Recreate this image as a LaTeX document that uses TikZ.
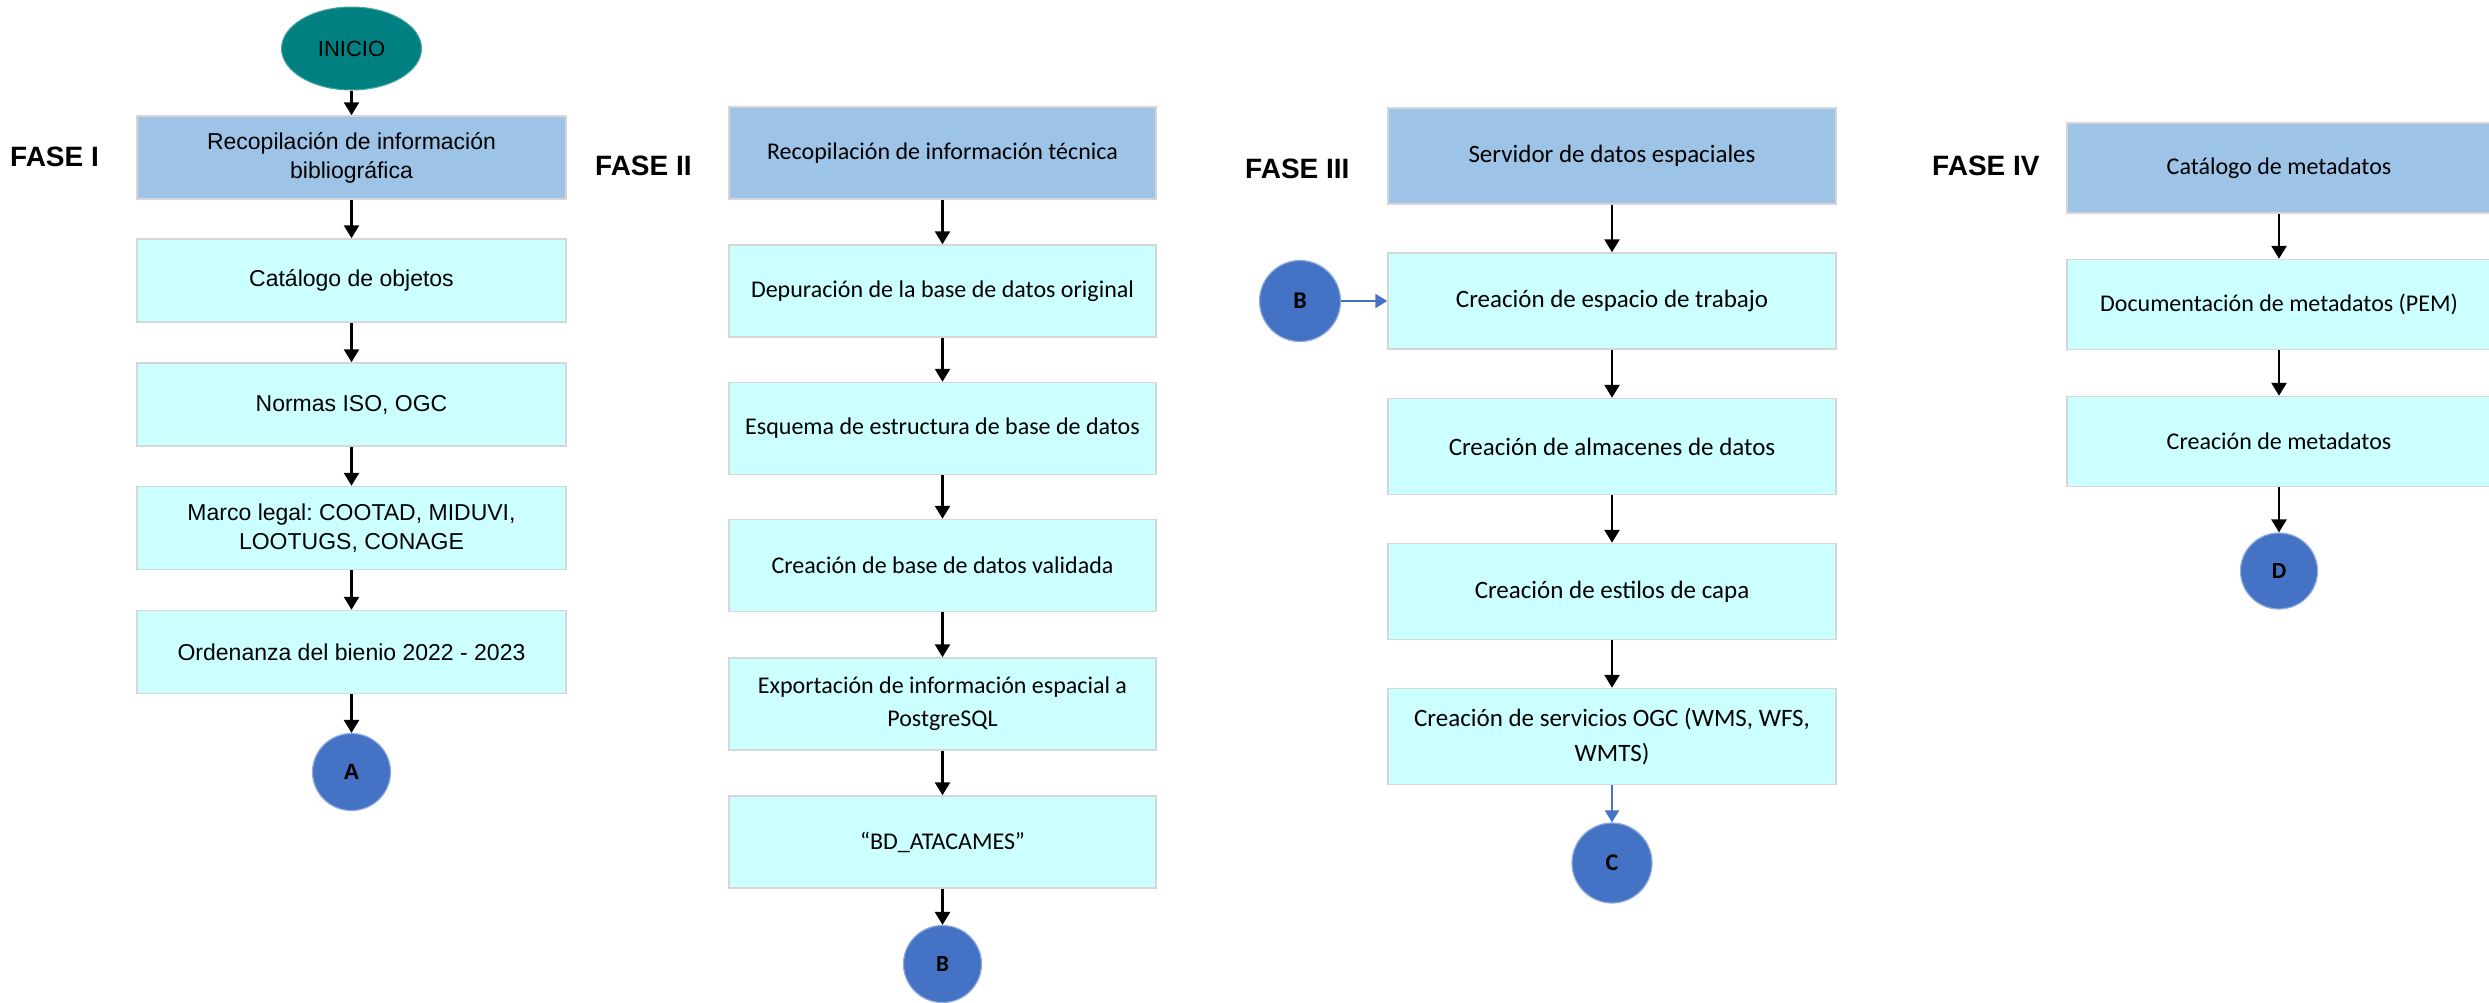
\documentclass[tikz,border=0pt]{standalone}
\usepackage{fontspec}
\setmainfont{Liberation Sans}
\newfontfamily\calibrifont{Carlito}
\usetikzlibrary{arrows.meta,shapes.geometric}
\frenchspacing
\definecolor{hdrblue}{HTML}{9DC3E6}
\definecolor{boxcyan}{HTML}{CCFFFF}
\definecolor{boxline}{HTML}{D6D6D6}
\definecolor{tealc}{HTML}{008080}
\definecolor{connblue}{HTML}{4472C4}
\tikzset{
  base/.style={rectangle, draw=boxline, line width=1.5pt, inner sep=0pt, align=center, text=black},
  hdrI/.style={base, fill=hdrblue, minimum width=429pt, minimum height=83pt, font=\fontsize{23}{29}\selectfont},
  boxI/.style={base, fill=boxcyan, minimum width=429pt, minimum height=83pt, font=\fontsize{23}{29}\selectfont},
  hdrII/.style={base, fill=hdrblue, minimum width=427pt, minimum height=92pt, font=\calibrifont\fontsize{24}{33}\selectfont},
  boxII/.style={base, fill=boxcyan, minimum width=427pt, minimum height=92pt, font=\calibrifont\fontsize{24}{33}\selectfont},
  hdrIII/.style={base, fill=hdrblue, minimum width=448pt, minimum height=96pt, font=\calibrifont\fontsize{25}{35}\selectfont},
  boxIII/.style={base, fill=boxcyan, minimum width=448pt, minimum height=96pt, font=\calibrifont\fontsize{25}{35}\selectfont},
  hdrIV/.style={base, fill=hdrblue, minimum width=424pt, minimum height=90pt, font=\calibrifont\fontsize{24}{33}\selectfont},
  boxIV/.style={base, fill=boxcyan, minimum width=424pt, minimum height=90pt, font=\calibrifont\fontsize{24}{33}\selectfont},
  conn/.style={ellipse, fill=connblue, draw=connblue!60!white, line width=1.2pt, inner sep=0pt, minimum width=78pt, minimum height=77pt, text=black},
  fase/.style={font=\bfseries\fontsize{28}{32}\selectfont, anchor=west, inner sep=0pt},
  arr/.style={-{Triangle[width=15pt,length=13pt]}, line width=2.6pt, black},
  barr/.style={-{Triangle[width=14pt,length=12pt]}, line width=2pt, connblue},
}
\begin{document}
\begin{tikzpicture}[x=1pt,y=-1pt]
\useasboundingbox (0,0) rectangle (2489,1002);
% FASE I
\node[ellipse, fill=tealc, draw=tealc!70!white, line width=1pt, minimum width=140pt, minimum height=83pt, inner sep=0pt, font=\fontsize{22}{26}\selectfont] (ini) at (351.5,48.5) {INICIO};
\node[fase] (f1) at (10,157) {FASE I};
\node[hdrI] (i1) at (351.5,157.5) {Recopilación de información\\bibliográfica};
\node[boxI] (i2) at (351.5,280.5) {Catálogo de objetos};
\node[boxI] (i3) at (351.5,404.5) {Normas ISO, OGC};
\node[boxI] (i4) at (351.5,528) {Marco legal: COOTAD, MIDUVI,\\LOOTUGS, CONAGE};
\node[boxI] (i5) at (351.5,652) {Ordenanza del bienio 2022 - 2023};
\node[conn, font=\bfseries\fontsize{22}{24}\selectfont] (ca) at (351.5,772) {A};
\draw[arr] (ini) -- (i1);
\draw[arr] (i1) -- (i2);
\draw[arr] (i2) -- (i3);
\draw[arr] (i3) -- (i4);
\draw[arr] (i4) -- (i5);
\draw[arr] (i5) -- (ca);
% FASE II
\node[fase] (f2) at (595,166) {FASE II};
\node[hdrII] (ii1) at (942.5,153) {Recopilación de información técnica};
\node[boxII] (ii2) at (942.5,291) {Depuración de la base de datos original};
\node[boxII] (ii3) at (942.5,428.5) {Esquema de estructura de base de datos};
\node[boxII] (ii4) at (942.5,565.5) {Creación de base de datos validada};
\node[boxII] (ii5) at (942.5,704) {Exportación de información espacial a\\PostgreSQL};
\node[boxII] (ii6) at (942.5,842) {“BD\_ATACAMES”};
\node[conn, font=\calibrifont\bfseries\fontsize{23}{26}\selectfont] (cb) at (942.5,964) {B};
\draw[arr] (ii1) -- (ii2);
\draw[arr] (ii2) -- (ii3);
\draw[arr] (ii3) -- (ii4);
\draw[arr] (ii4) -- (ii5);
\draw[arr] (ii5) -- (ii6);
\draw[arr] (ii6) -- (cb);
% FASE III
\node[fase] (f3) at (1245,169) {FASE III};
\node[hdrIII] (iii1) at (1612,156) {Servidor de datos espaciales};
\node[boxIII] (iii2) at (1612,301) {Creación de espacio de trabajo};
\node[boxIII] (iii3) at (1612,446.5) {Creación de almacenes de datos};
\node[boxIII] (iii4) at (1612,591.5) {Creación de estilos de capa};
\node[boxIII] (iii5) at (1612,736.5) {Creación de servicios OGC (WMS, WFS,\\WMTS)};
\node[conn, minimum width=80pt, minimum height=80pt, font=\calibrifont\bfseries\fontsize{24}{26}\selectfont] (cc) at (1612,863) {C};
\node[conn, minimum width=81pt, minimum height=81pt, font=\calibrifont\bfseries\fontsize{24}{26}\selectfont] (cb2) at (1300,301) {B};
\draw[arr] (iii1) -- (iii2);
\draw[arr] (iii2) -- (iii3);
\draw[arr] (iii3) -- (iii4);
\draw[arr] (iii4) -- (iii5);
\draw[barr] (iii5) -- (cc);
\draw[barr] (cb2) -- (iii2);
% FASE IV
\node[fase] (f4) at (1932,165.5) {FASE IV};
\node[hdrIV] (iv1) at (2279,168) {Catálogo de metadatos};
\node[boxIV] (iv2) at (2279,304.5) {Documentación de metadatos (PEM)};
\node[boxIV] (iv3) at (2279,441.5) {Creación de metadatos};
\node[conn, minimum width=77pt, minimum height=76pt, font=\calibrifont\bfseries\fontsize{23}{26}\selectfont] (cd) at (2279,571) {D};
\draw[arr] (iv1) -- (iv2);
\draw[arr] (iv2) -- (iv3);
\draw[arr] (iv3) -- (cd);
\end{tikzpicture}
\end{document}
